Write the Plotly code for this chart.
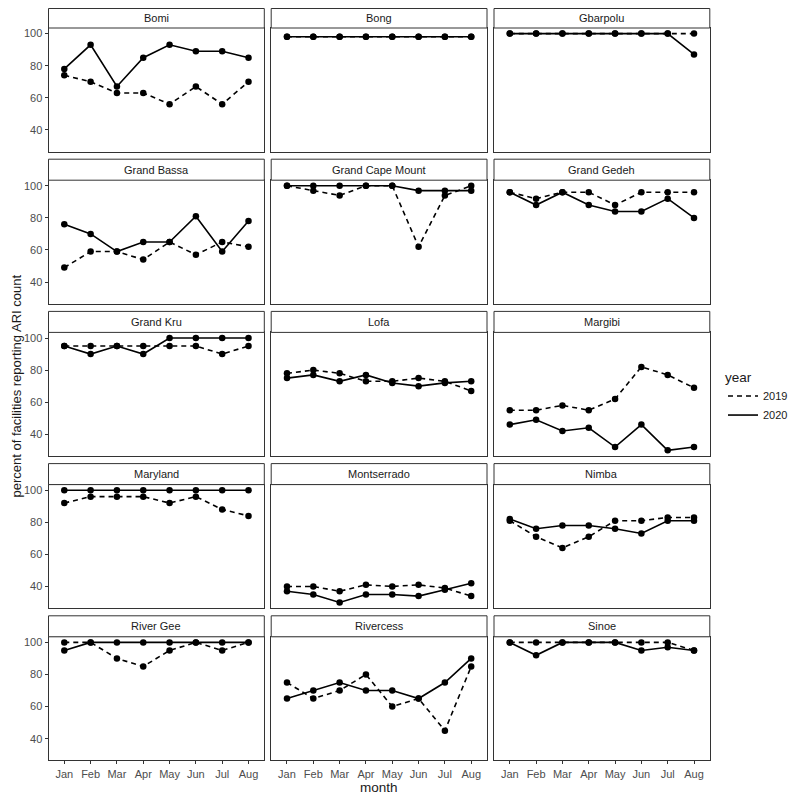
import plotly.graph_objects as go

months = ["Jan", "Feb", "Mar", "Apr", "May", "Jun", "Jul", "Aug"]
counties = ["Bomi", "Bong", "Gbarpolu", "Grand Bassa", "Grand Cape Mount", "Grand Gedeh",
            "Grand Kru", "Lofa", "Margibi", "Maryland", "Montserrado", "Nimba",
            "River Gee", "Rivercess", "Sinoe"]

pct_2019 = [
    [74, 70, 63, 63, 56, 67, 56, 70],          # Bomi
    [98, 98, 98, 98, 98, 98, 98, 98],          # Bong
    [100, 100, 100, 100, 100, 100, 100, 100],  # Gbarpolu
    [49, 59, 59, 54, 65, 57, 65, 62],          # Grand Bassa
    [100, 97, 94, 100, 100, 62, 94, 100],      # Grand Cape Mount
    [96, 92, 96, 96, 88, 96, 96, 96],          # Grand Gedeh
    [95, 95, 95, 95, 95, 95, 90, 95],          # Grand Kru
    [78, 80, 78, 73, 73, 75, 73, 67],          # Lofa
    [55, 55, 58, 55, 62, 82, 77, 69],          # Margibi
    [92, 96, 96, 96, 92, 96, 88, 84],          # Maryland
    [40, 40, 37, 41, 40, 41, 39, 34],          # Montserrado
    [81, 71, 64, 71, 81, 81, 83, 83],          # Nimba
    [100, 100, 90, 85, 95, 100, 95, 100],      # River Gee
    [75, 65, 70, 80, 60, 65, 45, 85],          # Rivercess
    [100, 100, 100, 100, 100, 100, 100, 95],   # Sinoe
]
pct_2020 = [
    [78, 93, 67, 85, 93, 89, 89, 85],
    [98, 98, 98, 98, 98, 98, 98, 98],
    [100, 100, 100, 100, 100, 100, 100, 87],
    [76, 70, 59, 65, 65, 81, 59, 78],
    [100, 100, 100, 100, 100, 97, 97, 97],
    [96, 88, 96, 88, 84, 84, 92, 80],
    [95, 90, 95, 90, 100, 100, 100, 100],
    [75, 77, 73, 77, 72, 70, 72, 73],
    [46, 49, 42, 44, 32, 46, 30, 32],
    [100, 100, 100, 100, 100, 100, 100, 100],
    [37, 35, 30, 35, 35, 34, 38, 42],
    [82, 76, 78, 78, 76, 73, 81, 81],
    [95, 100, 100, 100, 100, 100, 100, 100],
    [65, 70, 75, 70, 70, 65, 75, 90],
    [100, 92, 100, 100, 100, 95, 97, 95],
]
years = ["2019", "2020"]
y_ticks = [40, 60, 80, 100]

FONT = "Liberation Sans, Arial, Helvetica, sans-serif"
OFF = 8                      # page body margin in the browser
W = H = 800 - OFF            # figure size so it fits the 800x800 window
col_left = [48.5 - OFF, 271.2 - OFF, 494.0 - OFF]
panel_w = 215.8
row_top0, row_step, strip_h, row_h = 7.0 - OFF, 152.2, 21.0, 144.5
dash_style = {"2019": "5px,4px", "2020": "solid"}

fig = go.Figure()
layout = dict(
    width=W, height=H, margin=dict(l=0, r=0, t=0, b=0),
    paper_bgcolor="white", plot_bgcolor="white",
    font=dict(family=FONT, size=11, color="#1a1a1a"),
    showlegend=True,
)
shapes, annotations = [], []

for i, county in enumerate(counties):
    r, c = divmod(i, 3)
    n = "" if i == 0 else str(i + 1)
    x0 = col_left[c]
    x1 = x0 + panel_w
    st = max(0.5, row_top0 + r * row_step)
    sb = row_top0 + r * row_step + strip_h
    pb = row_top0 + r * row_step + row_h
    layout["xaxis" + n] = dict(
        domain=[x0 / W, x1 / W], anchor="y" + n, type="category",
        categoryorder="array", categoryarray=months, range=[-0.6, 7.6],
        showgrid=False, zeroline=False, showline=True, mirror=True,
        linecolor="#333333", linewidth=1,
        showticklabels=(r == 4), ticks="outside" if r == 4 else "",
        ticklen=3, tickwidth=1, tickcolor="#333333",
        tickfont=dict(family=FONT, size=11, color="#4d4d4d"),
    )
    layout["yaxis" + n] = dict(
        domain=[max(0, 1 - pb / H), 1 - sb / H], anchor="x" + n, range=[26.5, 103.5],
        tickvals=y_ticks, showgrid=False, zeroline=False, showline=True, mirror=True,
        linecolor="#333333", linewidth=1,
        showticklabels=(c == 0), ticks="outside" if c == 0 else "",
        ticklen=3, tickwidth=1, tickcolor="#333333",
        tickfont=dict(family=FONT, size=11, color="#4d4d4d"),
    )
    shapes.append(dict(type="rect", xref="paper", yref="paper",
                       x0=x0 / W, x1=x1 / W, y0=1 - sb / H, y1=1 - st / H,
                       fillcolor="white", line=dict(color="#333333", width=1)))
    annotations.append(dict(text=county, xref="paper", yref="paper",
                            x=(x0 + x1) / 2 / W, y=1 - (st + sb) / 2 / H,
                            xanchor="center", yanchor="middle", showarrow=False,
                            font=dict(family=FONT, size=11, color="#1a1a1a")))
    # lines first, then points (ggplot draw order)
    for yr, vals in zip(years, [pct_2019[i], pct_2020[i]]):
        fig.add_trace(go.Scatter(
            x=months, y=vals, mode="lines", xaxis="x" + n, yaxis="y" + n,
            line=dict(color="black", width=1.6, dash=dash_style[yr]),
            name=yr, legendgroup=yr, showlegend=(i == 0), hoverinfo="skip"))
    for yr, vals in zip(years, [pct_2019[i], pct_2020[i]]):
        fig.add_trace(go.Scatter(
            x=months, y=vals, mode="markers", xaxis="x" + n, yaxis="y" + n,
            marker=dict(color="black", size=6.5),
            name=yr, legendgroup=yr, showlegend=False))

annotations.append(dict(text="month", xref="paper", yref="paper",
                        x=(col_left[0] + col_left[2] + panel_w) / 2 / W, y=1 - (787 - OFF) / H,
                        xanchor="center", yanchor="middle", showarrow=False,
                        font=dict(family=FONT, size=13.5, color="#1a1a1a")))
annotations.append(dict(text="percent of facilities reporting ARI count", xref="paper", yref="paper",
                        x=7.5 / W, y=1 - (386 - OFF) / H, textangle=-90,
                        xanchor="center", yanchor="middle", showarrow=False, borderpad=0,
                        font=dict(family=FONT, size=13, color="#1a1a1a")))

layout["shapes"] = shapes
layout["annotations"] = annotations
layout["legend"] = dict(
    x=(723 - OFF) / W, y=1 - (364 - OFF) / H, xanchor="left", yanchor="top",
    title=dict(text="year", font=dict(family=FONT, size=13.5, color="#1a1a1a")),
    font=dict(family=FONT, size=11, color="#1a1a1a"),
    itemwidth=30, bgcolor="rgba(0,0,0,0)", tracegroupgap=0,
)
fig.update_layout(**layout)
fig.write_html("out.html")
